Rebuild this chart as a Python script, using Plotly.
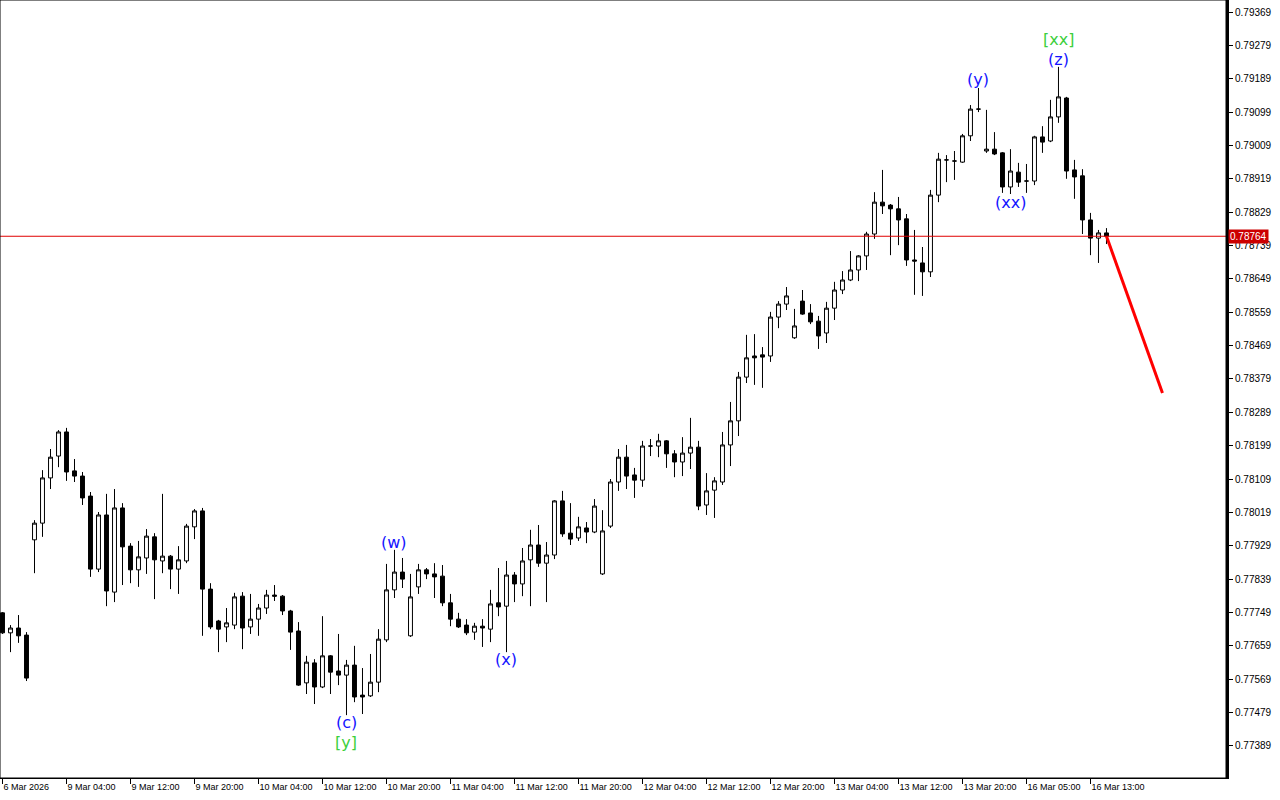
import plotly.graph_objects as go

# ---- data (hourly candles) ----
opens = [0.77748, 0.77694, 0.77707, 0.77688, 0.77945, 0.77990, 0.78112, 0.78171, 0.78236, 0.78131,
         0.78117, 0.78063, 0.77866, 0.78012, 0.77804, 0.78031, 0.77928, 0.77864, 0.77896, 0.77953,
         0.77888, 0.77901, 0.77866, 0.77888, 0.77980, 0.78023, 0.77812, 0.77726, 0.77710, 0.77715,
         0.77793, 0.77710, 0.77731, 0.77761, 0.77796, 0.77793, 0.77753, 0.77699, 0.77559, 0.77613,
         0.77548, 0.77632, 0.77591, 0.77580, 0.77607, 0.77526, 0.77524, 0.77561, 0.77675, 0.77810,
         0.77858, 0.77686, 0.77818, 0.77864, 0.77853, 0.77847, 0.77775, 0.77731, 0.77715, 0.77696,
         0.77712, 0.77704, 0.77775, 0.77766, 0.77850, 0.77826, 0.77891, 0.77931, 0.77882, 0.77904,
         0.78050, 0.77963, 0.77950, 0.77977, 0.77966, 0.77853, 0.77982, 0.78101, 0.78168, 0.78120,
         0.78106, 0.78198, 0.78198, 0.78212, 0.78177, 0.78155, 0.78179, 0.78195, 0.78039, 0.78079,
         0.78101, 0.78201, 0.78266, 0.78384, 0.78441, 0.78444, 0.78441, 0.78546, 0.78581, 0.78490,
         0.78589, 0.78557, 0.78535, 0.78503, 0.78570, 0.78619, 0.78646, 0.78673, 0.78711, 0.78770,
         0.78856, 0.78848, 0.78838, 0.78811, 0.78700, 0.78692, 0.78668, 0.78875, 0.78970, 0.78967,
         0.78964, 0.79035, 0.79107, 0.78994, 0.78999, 0.78989, 0.78897, 0.78937, 0.78913, 0.78913,
         0.79032, 0.79021, 0.79086, 0.79137, 0.78943, 0.78927, 0.78808, 0.78759, 0.78773]
highs = [0.77750, 0.77715, 0.77742, 0.77696, 0.77998, 0.78133, 0.78190, 0.78241, 0.78247, 0.78163,
         0.78128, 0.78074, 0.78020, 0.78069, 0.78082, 0.78044, 0.77936, 0.77942, 0.77974, 0.77963,
         0.78069, 0.77904, 0.77928, 0.77988, 0.78028, 0.78031, 0.77828, 0.77729, 0.77761, 0.77802,
         0.77804, 0.77799, 0.77772, 0.77810, 0.77823, 0.77796, 0.77756, 0.77723, 0.77632, 0.77623,
         0.77739, 0.77634, 0.77691, 0.77621, 0.77659, 0.77599, 0.77637, 0.77704, 0.77880, 0.77918,
         0.77896, 0.77853, 0.77880, 0.77869, 0.77882, 0.77877, 0.77799, 0.77748, 0.77731, 0.77721,
         0.77731, 0.77810, 0.77869, 0.77888, 0.77858, 0.77923, 0.77972, 0.77985, 0.77939, 0.78052,
         0.78077, 0.78044, 0.78007, 0.77993, 0.78055, 0.78025, 0.78109, 0.78190, 0.78201, 0.78139,
         0.78212, 0.78217, 0.78231, 0.78214, 0.78187, 0.78222, 0.78274, 0.78212, 0.78125, 0.78114,
         0.78236, 0.78317, 0.78398, 0.78498, 0.78500, 0.78465, 0.78560, 0.78589, 0.78627, 0.78568,
         0.78619, 0.78581, 0.78549, 0.78587, 0.78641, 0.78670, 0.78724, 0.78713, 0.78776, 0.78883,
         0.78943, 0.78851, 0.78870, 0.78824, 0.78781, 0.78735, 0.78889, 0.78989, 0.78983, 0.78994,
         0.79040, 0.79118, 0.79164, 0.79105, 0.79045, 0.78991, 0.78999, 0.78962, 0.78959, 0.79035,
         0.79061, 0.79132, 0.79221, 0.79140, 0.78970, 0.78945, 0.78827, 0.78781, 0.78786]
lows = [0.77691, 0.77642, 0.77667, 0.77564, 0.77855, 0.77953, 0.78082, 0.78141, 0.78104, 0.78101,
        0.78039, 0.77845, 0.77858, 0.77766, 0.77777, 0.77823, 0.77828, 0.77818, 0.77853, 0.77785,
        0.77855, 0.77812, 0.77799, 0.77882, 0.77947, 0.77686, 0.77704, 0.77642, 0.77669, 0.77704,
        0.77650, 0.77691, 0.77686, 0.77745, 0.77780, 0.77742, 0.77648, 0.77551, 0.77529, 0.77502,
        0.77545, 0.77529, 0.77553, 0.77472, 0.77507, 0.77475, 0.77521, 0.77534, 0.77669, 0.77788,
        0.77815, 0.77683, 0.77799, 0.77839, 0.77788, 0.77766, 0.77712, 0.77707, 0.77688, 0.77675,
        0.77656, 0.77669, 0.77739, 0.77642, 0.77777, 0.77793, 0.77766, 0.77872, 0.77777, 0.77893,
        0.77953, 0.77931, 0.77942, 0.77936, 0.77963, 0.77850, 0.77977, 0.78077, 0.78082, 0.78058,
        0.78088, 0.78171, 0.78168, 0.78139, 0.78114, 0.78117, 0.78136, 0.78025, 0.78012, 0.78004,
        0.78093, 0.78144, 0.78225, 0.78368, 0.78363, 0.78355, 0.78425, 0.78516, 0.78565, 0.78487,
        0.78552, 0.78527, 0.78460, 0.78476, 0.78538, 0.78608, 0.78643, 0.78643, 0.78673, 0.78757,
        0.78824, 0.78713, 0.78740, 0.78684, 0.78606, 0.78603, 0.78654, 0.78856, 0.78910, 0.78916,
        0.78962, 0.79021, 0.79099, 0.78989, 0.78983, 0.78881, 0.78878, 0.78897, 0.78881, 0.78902,
        0.78989, 0.79018, 0.79070, 0.78919, 0.78865, 0.78770, 0.78713, 0.78692, 0.78743]
closes = [0.77694, 0.77707, 0.77686, 0.77572, 0.77990, 0.78112, 0.78168, 0.78236, 0.78128, 0.78117,
          0.78058, 0.77866, 0.78012, 0.77807, 0.78031, 0.77926, 0.77864, 0.77899, 0.77955, 0.77891,
          0.77901, 0.77866, 0.77891, 0.77982, 0.78023, 0.77812, 0.77710, 0.77704, 0.77721, 0.77791,
          0.77707, 0.77731, 0.77761, 0.77796, 0.77793, 0.77753, 0.77696, 0.77553, 0.77615, 0.77548,
          0.77632, 0.77588, 0.77580, 0.77607, 0.77521, 0.77521, 0.77561, 0.77677, 0.77810, 0.77858,
          0.77839, 0.77791, 0.77864, 0.77853, 0.77845, 0.77775, 0.77731, 0.77710, 0.77694, 0.77712,
          0.77707, 0.77772, 0.77764, 0.77850, 0.77826, 0.77888, 0.77931, 0.77882, 0.77904, 0.78050,
          0.77961, 0.77947, 0.77980, 0.77966, 0.78036, 0.77969, 0.78101, 0.78168, 0.78117, 0.78106,
          0.78198, 0.78198, 0.78212, 0.78177, 0.78155, 0.78179, 0.78195, 0.78036, 0.78077, 0.78104,
          0.78201, 0.78266, 0.78384, 0.78436, 0.78436, 0.78438, 0.78546, 0.78581, 0.78603, 0.78522,
          0.78554, 0.78533, 0.78495, 0.78570, 0.78619, 0.78646, 0.78673, 0.78711, 0.78770, 0.78856,
          0.78846, 0.78838, 0.78808, 0.78700, 0.78697, 0.78668, 0.78875, 0.78972, 0.78970, 0.78967,
          0.79035, 0.79107, 0.79107, 0.78999, 0.78986, 0.78897, 0.78940, 0.78910, 0.78913, 0.79032,
          0.79018, 0.79086, 0.79140, 0.78940, 0.78924, 0.78808, 0.78759, 0.78773, 0.78764]
bar_index = list(range(len(opens)))

x_tick_index = list(range(0, 137, 8))
x_tick_labels = ["6 Mar 2026", "9 Mar 04:00", "9 Mar 12:00", "9 Mar 20:00", "10 Mar 04:00",
                 "10 Mar 12:00", "10 Mar 20:00", "11 Mar 04:00", "11 Mar 12:00", "11 Mar 20:00",
                 "12 Mar 04:00", "12 Mar 12:00", "12 Mar 20:00", "13 Mar 04:00", "13 Mar 12:00",
                 "13 Mar 20:00", "16 Mar 05:00", "16 Mar 13:00"]
y_ticks = [round(0.77389 + 0.0009 * k, 5) for k in range(23)]

current_price = 0.78764
forecast_x = [138, 145]
forecast_y = [0.78764, 0.78341]

wave_text = ["(c)", "[y]", "(w)", "(x)", "(y)", "(xx)", "(z)", "[xx]"]
wave_x = [43, 43, 49, 63, 122, 126, 132, 132]
wave_y = [0.77451, 0.77397, 0.77939, 0.77621, 0.79188, 0.78854, 0.79242, 0.79294]
wave_kind = ["minor", "major", "minor", "minor", "minor", "minor", "minor", "major"]

BLUE = "#1414ff"
GREEN = "#3ccf3c"

fig = go.Figure()
fig.add_trace(go.Candlestick(
    x=bar_index, open=opens, high=highs, low=lows, close=closes,
    increasing=dict(line=dict(color="black", width=1), fillcolor="white"),
    decreasing=dict(line=dict(color="black", width=1), fillcolor="black"),
    whiskerwidth=0, showlegend=False, hoverinfo="skip"))

fig.add_trace(go.Scatter(x=forecast_x, y=forecast_y, mode="lines",
                         line=dict(color="#ff0000", width=3), showlegend=False, hoverinfo="skip"))

fig.add_shape(type="line", xref="paper", x0=0, x1=1, yref="y", y0=current_price, y1=current_price,
              line=dict(color="#e00000", width=1))
fig.add_shape(type="rect", xref="paper", yref="paper", x0=0, x1=1, y0=0, y1=1,
              line=dict(color="black", width=1))

for t, xx, yy, k in zip(wave_text, wave_x, wave_y, wave_kind):
    fig.add_annotation(x=xx, y=yy, text=t, showarrow=False, xanchor="center", yanchor="middle",
                       font=dict(family="DejaVu Sans", size=16, color=GREEN if k == "major" else BLUE))

fig.add_annotation(x=1, xref="paper", xanchor="left", xshift=2, y=current_price, yref="y",
                   yanchor="middle", text="%.5f" % current_price, showarrow=False,
                   bgcolor="#cc0000", borderpad=1,
                   font=dict(family="Liberation Sans", size=10, color="white"))

fig.update_layout(
    width=1280, height=800,
    margin=dict(l=0, r=54, t=0, b=22, autoexpand=False),
    plot_bgcolor="white", paper_bgcolor="white",
    xaxis=dict(range=[-0.3125, 152.94], showgrid=False, zeroline=False,
               tickmode="array", tickvals=x_tick_index, ticktext=x_tick_labels,
               ticks="outside", ticklen=5, tickcolor="black", tickwidth=1,
               ticklabelposition="outside right",
               tickfont=dict(family="Liberation Sans", size=9, color="black"),
               showline=True, linecolor="black", linewidth=1,
               rangeslider=dict(visible=False), fixedrange=True),
    yaxis=dict(range=[0.773024, 0.794014], side="right", showgrid=False, zeroline=False,
               tickmode="array", tickvals=y_ticks, tickformat=".5f",
               ticks="outside", ticklen=4, tickcolor="black", tickwidth=1,
               tickfont=dict(family="Liberation Sans", size=10, color="black"),
               showline=True, linecolor="black", linewidth=3, fixedrange=True),
)

fig.write_html("out.html", config={"displayModeBar": False},
               post_script="document.body.style.margin='0';document.body.style.overflow='hidden';")
